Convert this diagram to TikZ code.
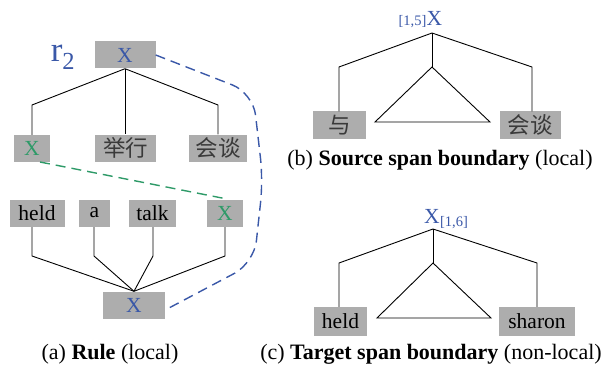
\documentclass[tikz,border=0pt]{standalone}
\usepackage{fontspec}
\setmainfont{Liberation Serif}
\newfontfamily\cjk{Noto Sans CJK SC}
\definecolor{boxgray}{HTML}{ADADAD}
\definecolor{xblue}{HTML}{3A58A8}
\definecolor{xgreen}{HTML}{2E9A68}
\definecolor{cjkgray}{HTML}{3A3A3A}
\tikzset{
  wbox/.style={fill=boxgray, inner sep=0pt, minimum height=27pt,
    font=\fontsize{21.5}{24}\selectfont, text=black},
  zhbox/.style={wbox, font=\cjk\fontsize{22.5}{24}\selectfont, text=cjkgray},
  edge/.style={draw=black, line width=0.9pt},
  bluedash/.style={draw=xblue, line width=1.4pt, dash pattern=on 10pt off 6pt},
  greendash/.style={draw=xgreen, line width=1.4pt, dash pattern=on 10pt off 6pt},
  caption/.style={font=\fontsize{22}{26}\selectfont, inner sep=0pt},
}
\begin{document}
\begin{tikzpicture}[x=1pt, y=-1pt]
\useasboundingbox (0,0) rectangle (603,369);

% ---------- (a) rule ----------
\node[font=\fontsize{35}{38}\selectfont, text=xblue, inner sep=0pt] (r2) at (63,57) {r\textsubscript{2}};
\node[wbox, minimum width=61pt, text=xblue] (top) at (125,55) {X};

\node[wbox, minimum width=36pt, text=xgreen] (sx) at (32,148.5) {X};
\node[zhbox, minimum width=61pt] (jx) at (125.5,148) {举行};
\node[zhbox, minimum width=58pt] (ht) at (218,148) {会谈};

\coordinate (al) at (32,105);
\coordinate (ar) at (218,105);
\draw[edge] (top.south) -- (al) -- (sx.north);
\draw[edge] (top.south) -- (top.south |- jx.north);
\draw[edge] (top.south) -- (ar) -- (ht.north);

\node[wbox, minimum width=55pt] (held) at (37,213) {held};
\node[wbox, minimum width=31pt] (a) at (94.5,213) {a};
\node[wbox, minimum width=47pt] (talk) at (152.5,213) {talk};
\node[wbox, minimum width=36pt, text=xgreen] (tx) at (225,213) {X};
\node[wbox, minimum width=62pt, text=xblue] (bot) at (134,305) {X};

\coordinate (h1) at (32,227);  \coordinate (h2) at (32,256);
\coordinate (a1) at (94,227);  \coordinate (a2) at (94,256);
\coordinate (t1) at (153,227); \coordinate (t2) at (153,256);
\coordinate (x1) at (225,227); \coordinate (x2) at (225,256);
\draw[edge] (h1) -- (h2) -- (bot.north);
\draw[edge] (a1) -- (a2) -- (bot.north);
\draw[edge] (t1) -- (t2) -- (bot.north);
\draw[edge] (x1) -- (x2) -- (bot.north);

% alignment links
\coordinate (g1) at (40,162);
\coordinate (g2) at (227,199);
\draw[greendash] (g1) -- (g2);

\coordinate (c1) at (253,93);
\coordinate (c2) at (263,180);
\coordinate (c3) at (254,263);
\draw[bluedash, rounded corners=22pt] (top.east) -- (c1) -- (c2) -- (c3) -- ([yshift=-5pt]bot.east);

\node[caption] (capa) at (110,354) {(a) \textbf{Rule} (local)};

% ---------- (b) source span boundary ----------
\node[font=\fontsize{21.5}{24}\selectfont, text=xblue, inner sep=0pt, anchor=base] (bx) at (434.5,26) {X};
\node[font=\fontsize{14.5}{16}\selectfont, text=xblue, inner sep=0pt, anchor=base east] (bspan) at (bx.base west) {[1,5]};
\coordinate (broot) at (432,33);
\coordinate (bl) at (339,67);
\coordinate (br) at (532,67);
\coordinate (btop) at (432,67);
\coordinate (btl) at (375,122);
\coordinate (btr) at (490,122);
\node[zhbox, minimum width=53pt] (yu) at (339.5,125) {与};
\node[zhbox, minimum width=61pt] (bht) at (530,125) {会谈};
\draw[edge] (broot) -- (bl) -- (yu.north -| bl);
\draw[edge] (broot) -- (btop);
\draw[edge] (broot) -- (br) -- (bht.north -| br);
\draw[edge] (btop) -- (btl) -- (btr) -- cycle;
\node[caption] (capb) at (440,160) {(b) \textbf{Source span boundary} (local)};

% ---------- (c) target span boundary ----------
\node[font=\fontsize{21.5}{24}\selectfont, text=xblue, inner sep=0pt, anchor=base] (cx) at (432,223) {X};
\node[font=\fontsize{14.5}{16}\selectfont, text=xblue, inner sep=0pt, anchor=base west] (cspan) at ([yshift=-3.5pt]cx.base east) {[1,6]};
\coordinate (croot) at (433,229);
\coordinate (cl) at (339,263);
\coordinate (cr) at (537,263);
\coordinate (ctop) at (433,263);
\coordinate (ctl) at (377,318);
\coordinate (ctr) at (491,318);
\node[wbox, minimum width=53pt, minimum height=29pt] (cheld) at (340.5,321.5) {held};
\node[wbox, minimum width=76pt, minimum height=29pt] (sharon) at (537,321.5) {sharon};
\draw[edge] (croot) -- (cl) -- (cheld.north -| cl);
\draw[edge] (croot) -- (ctop);
\draw[edge] (croot) -- (cr) -- (sharon.north -| cr);
\draw[edge] (ctop) -- (ctl) -- (ctr) -- cycle;
\node[caption] (capc) at (431,354) {(c) \textbf{Target span boundary} (non-local)};
\end{tikzpicture}
\end{document}
